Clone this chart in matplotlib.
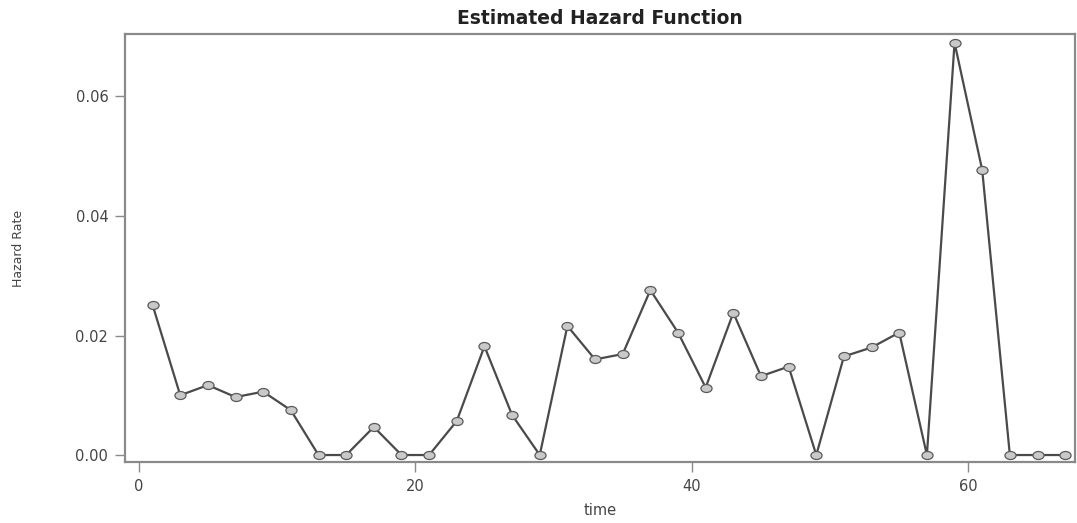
import numpy as np
import matplotlib
matplotlib.use("Agg")
import matplotlib.pyplot as plt
from matplotlib.path import Path

# time points (odd intervals) and estimated hazard rates
time = np.arange(1, 68, 2)
hazard = [
    0.0251, 0.0100, 0.0117, 0.0097, 0.0106, 0.0075, 0.0, 0.0, 0.0047, 0.0,
    0.0, 0.0057, 0.0182, 0.0067, 0.0, 0.0216, 0.0160, 0.0169, 0.0276, 0.0205,
    0.0113, 0.0238, 0.0132, 0.0148, 0.0, 0.0165, 0.0180, 0.0205, 0.0, 0.0690,
    0.0477, 0.0, 0.0, 0.0,
]
x_ticks = [0, 20, 40, 60]
y_ticks = [0.00, 0.02, 0.04, 0.06]

text_col = "#444444"
spine_col = "#8a8a8a"

# slightly wide ellipse marker, like the stretched circles of the original
circ = Path.unit_circle()
ellipse = Path(circ.vertices * [1.0, 0.72], circ.codes)

fig = plt.figure(figsize=(10.77, 5.23), dpi=100)
ax = fig.add_axes([0.116, 0.1166, 0.882, 0.8184])

ax.plot(time, hazard, color="#4a4a4a", linewidth=1.6,
        marker=ellipse, markersize=8, markerfacecolor="#c9c9c9",
        markeredgecolor="#5a5a5a", markeredgewidth=0.9)

ax.set_xlim(-1.0, 67.7)
ax.set_ylim(-0.00117, 0.07046)
ax.set_xticks(x_ticks)
ax.set_yticks(y_ticks)
ax.set_xticklabels([str(t) for t in x_ticks])
ax.set_yticklabels([f"{v:.2f}" for v in y_ticks])

for s in ax.spines.values():
    s.set_color(spine_col)
    s.set_linewidth(1.6)

ax.tick_params(axis="both", colors=spine_col, labelcolor=text_col,
               labelsize=10.5, length=7, width=1.0, pad=5)

ax.set_title("Estimated Hazard Function", fontsize=13.5, fontweight="bold",
             color="#222222", pad=7)
ax.set_xlabel("time", fontsize=10.5, color=text_col, labelpad=7)
ax.set_ylabel("Hazard Rate", fontsize=9, color=text_col, labelpad=36)

fig.savefig("out.png", dpi=100)
